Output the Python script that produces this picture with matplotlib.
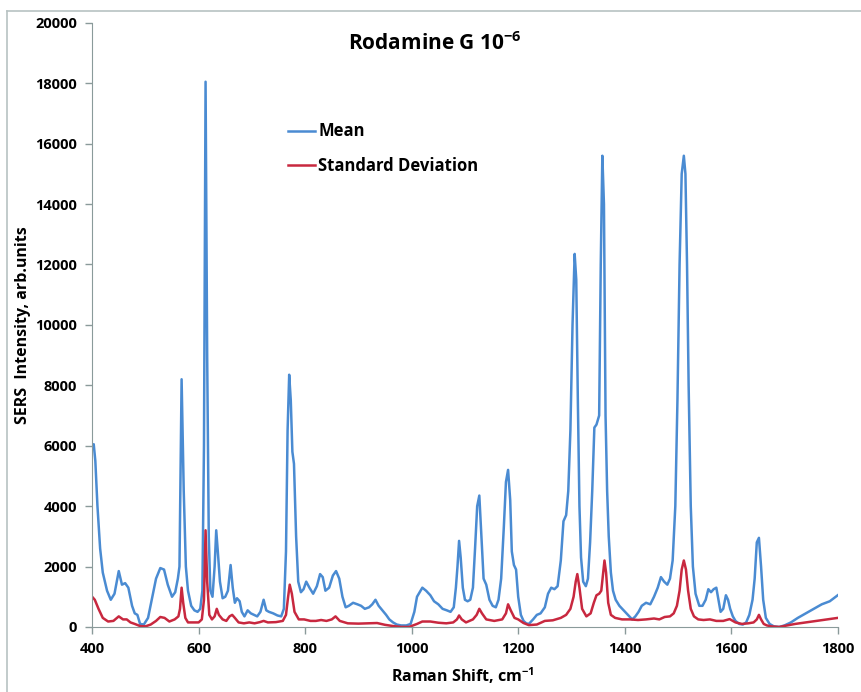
import matplotlib
matplotlib.use("Agg")
import matplotlib.pyplot as plt
from matplotlib.lines import Line2D

plt.rcParams['font.family'] = ['Open Sans', 'DejaVu Sans']
plt.rcParams['mathtext.fontset'] = 'custom'
plt.rcParams['mathtext.rm'] = 'Open Sans'
plt.rcParams['mathtext.bf'] = 'Open Sans:bold'
plt.rcParams['mathtext.it'] = 'Open Sans:italic'

# Mean spectrum (Raman shift, intensity)
mean_x = [400, 403, 406, 410, 415, 420, 428, 435, 442, 450, 456, 462, 468, 475, 480, 485, 490,
          497, 505, 512, 520, 528, 535, 542, 550, 556, 561, 564, 568, 572, 576, 580, 586, 592, 598,
          603, 607, 610, 613, 616, 619, 622, 626, 630, 633, 636, 640, 645, 650, 655, 660, 664, 668,
          672, 677, 681, 686, 692, 698, 704, 710, 716, 722, 727, 732, 740, 748, 755, 760, 764, 767,
          770, 773, 776, 779, 783, 787, 792, 797, 802, 808, 815, 822, 828, 833, 838, 845, 852, 858,
          864, 870, 876, 882, 890, 898, 905, 912, 920, 926, 932, 938, 945, 952, 958, 965, 972, 980,
          990, 998, 1005, 1010, 1015, 1020, 1027, 1035, 1042, 1050, 1058, 1066, 1073, 1079, 1083, 1086,
          1089, 1092, 1096, 1100, 1105, 1110, 1115, 1119, 1123, 1127, 1131, 1135, 1140, 1146, 1152, 1158,
          1163, 1168, 1173, 1177, 1181, 1185, 1188, 1192, 1196, 1200, 1205, 1210, 1215, 1220, 1228, 1235,
          1242, 1250, 1256, 1262, 1268, 1274, 1280, 1285, 1290, 1294, 1298, 1302, 1306, 1309, 1312, 1315,
          1318, 1322, 1327, 1331, 1335, 1339, 1343, 1347, 1352, 1355, 1358, 1361, 1364, 1367, 1370, 1374,
          1378, 1383, 1390, 1398, 1406, 1414, 1420, 1426, 1432, 1440, 1448, 1455, 1462, 1468, 1474, 1480,
          1485, 1490, 1495, 1499, 1503, 1507, 1511, 1514, 1517, 1520, 1524, 1528, 1533, 1540, 1546, 1552,
          1557, 1562, 1567, 1572, 1576, 1580, 1585, 1590, 1594, 1598, 1603, 1608, 1615, 1622, 1628, 1634,
          1640, 1644, 1648, 1652, 1656, 1660, 1665, 1672, 1680, 1690, 1700, 1712, 1725, 1740, 1755, 1770,
          1785, 1800]
mean_y = [6000, 6050, 5500, 4000, 2600, 1800, 1200, 900, 1100, 1850, 1400, 1450, 1300, 700, 450, 400, 100,
          80, 300, 900, 1600, 1950, 1900, 1400, 1000, 1150, 1600, 2000, 8200, 4500, 2000, 1200, 700, 550, 500,
          600, 1200, 6000, 18050, 9000, 3000, 1200, 1000, 2000, 3200, 2500, 1500, 950, 1000, 1200, 2050, 1300, 800,
          950, 850, 500, 350, 550, 450, 400, 350, 500, 900, 550, 500, 450, 380, 350, 600, 2500, 6500,
          8350, 7500, 5800, 5400, 3000, 1500, 1150, 1250, 1500, 1300, 1100, 1350, 1750, 1650, 1200, 1300, 1700, 1850,
          1600, 1000, 650, 700, 800, 750, 700, 600, 650, 750, 900, 700, 550, 400, 250, 150, 80, 50,
          50, 100, 500, 1000, 1150, 1300, 1200, 1050, 850, 750, 600, 550, 500, 650, 1300, 2000,
          2850, 2300, 1300, 900, 850, 900, 1300, 2600, 4000, 4350, 3000, 1600, 1400, 900, 700, 650,
          900, 1600, 3300, 4800, 5200, 4200, 2500, 2050, 1900, 1000, 400, 200, 120, 100, 250, 400,
          450, 650, 1100, 1300, 1250, 1350, 2200, 3500, 3700, 4500, 6500, 10000, 12350, 11500, 7500, 4000,
          2300, 1500, 1350, 1600, 2800, 4500, 6600, 6700, 7000, 12000, 15600, 14000, 7000, 4500, 3000, 1800,
          1200, 900, 700, 550, 400, 250, 350, 500, 700, 800, 750, 1000, 1300, 1650, 1500, 1400,
          1600, 2200, 4000, 7500, 12000, 15000, 15600, 15000, 12000, 8000, 4000, 2000, 1100, 700, 700, 900,
          1250, 1150, 1250, 1300, 900, 500, 600, 1050, 900, 600, 350, 200, 100, 80, 150, 400,
          900, 1600, 2800, 2950, 2000, 900, 300, 100, 20, 0, 50, 150, 300, 450, 600, 750,
          850, 1050]

# Standard deviation spectrum
std_x = [400, 405, 412, 420, 430, 440, 450, 458, 465, 472, 480, 490, 500, 510, 520, 528, 536, 545,
         555, 562, 565, 568, 571, 575, 580, 590, 600, 606, 610, 613, 616, 620, 625, 630, 634, 638, 645,
         652, 658, 663, 668, 675, 685, 695, 705, 715, 722, 730, 745, 758, 764, 768, 771, 775, 780, 788,
         798, 810, 820, 830, 840, 850, 857, 865, 880, 900, 920, 935, 950, 965, 980, 995, 1010, 1020,
         1035, 1050, 1065, 1078, 1085, 1089, 1094, 1102, 1115, 1122, 1127, 1132, 1140, 1155, 1170, 1177,
         1181, 1186, 1193, 1200, 1210, 1220, 1235, 1250, 1265, 1280, 1290, 1298, 1304, 1308, 1311, 1315,
         1320, 1328, 1336, 1342, 1347, 1352, 1356, 1359, 1362, 1365, 1369, 1374, 1382, 1395, 1410, 1425,
         1440, 1455, 1465, 1475, 1485, 1492, 1498, 1503, 1507, 1511, 1515, 1519, 1524, 1530, 1538, 1548,
         1560, 1572, 1585, 1597, 1608, 1620, 1632, 1642, 1648, 1652, 1656, 1661, 1667, 1675, 1690, 1705,
         1720, 1740, 1760, 1780, 1800]
std_y = [1000, 900, 600, 300, 180, 200, 350, 250, 250, 150, 100, 30, 20, 80, 200, 330, 300, 180,
         250, 350, 600, 1300, 800, 300, 150, 150, 150, 250, 900, 3200, 1500, 400, 250, 350, 600, 400, 250,
         200, 350, 400, 300, 150, 120, 150, 120, 160, 200, 150, 160, 200, 400, 1000, 1400, 1100, 500, 250,
         250, 200, 200, 230, 200, 250, 350, 200, 120, 110, 120, 130, 70, 30, 0, 0, 100, 180,
         180, 140, 120, 150, 250, 380, 250, 150, 250, 400, 600, 450, 250, 200, 250, 450,
         750, 550, 300, 250, 130, 60, 80, 200, 220, 300, 400, 600, 1000, 1500, 1750, 1300,
         600, 350, 450, 800, 1050, 1100, 1200, 1700, 2200, 1800, 800, 400, 300, 250, 250, 230,
         250, 280, 250, 330, 350, 450, 700, 1200, 1900, 2200, 1900, 1200, 600, 350, 250, 230,
         250, 200, 200, 260, 150, 100, 120, 150, 250, 400, 250, 100, 50, 20, 0, 50,
         100, 150, 200, 250, 300]

x_ticks = [400, 600, 800, 1000, 1200, 1400, 1600, 1800]
y_ticks = [0, 2000, 4000, 6000, 8000, 10000, 12000, 14000, 16000, 18000, 20000]

fig = plt.figure(figsize=(8.61, 6.92), dpi=100)
ax = fig.add_axes([0.107, 0.094, 0.866, 0.873])

ax.plot(mean_x, mean_y, color='#4a8bd2', lw=1.8, label='Mean', solid_joinstyle='round')
ax.plot(std_x, std_y, color='#c8283f', lw=1.8, label='Standard Deviation', solid_joinstyle='round')

ax.set_xlim(400, 1800)
ax.set_ylim(0, 20000)
ax.set_xticks(x_ticks)
ax.set_yticks(y_ticks)
for lab in ax.get_xticklabels() + ax.get_yticklabels():
    lab.set_fontweight('bold')
    lab.set_fontsize(10.5)
ax.tick_params(axis='both', direction='out', length=5, color='#8a9a9a', width=1, pad=6)
for s in ['top', 'right']:
    ax.spines[s].set_visible(False)
for s in ['left', 'bottom']:
    ax.spines[s].set_color('#8a9a9a')

ax.set_xlabel('Raman Shift, cm$^{\\mathbf{-1}}$', fontweight='bold', fontsize=11.5)
ax.set_ylabel('SERS  Intensity, arb.units', fontweight='bold', fontsize=11.5)
ax.xaxis.set_label_coords(0.497, -0.064)
ax.yaxis.set_label_coords(-0.082, 0.5)

ax.text(0.46, 0.965, 'Rodamine G 10$^{\\mathbf{-6}}$', transform=ax.transAxes,
        ha='center', va='center', fontsize=15, fontweight='bold')

leg = ax.legend(loc='upper left', bbox_to_anchor=(0.243, 0.86), frameon=False,
                handlelength=1.6, handletextpad=0.2, labelspacing=1.0,
                prop={'weight': 'bold', 'size': 12})

# thin figure border (top and left)
fig.add_artist(Line2D([0.008, 0.008], [0.0, 0.984], transform=fig.transFigure, color='#b8c2c2', lw=1.2))
fig.add_artist(Line2D([0.008, 1.0], [0.984, 0.984], transform=fig.transFigure, color='#b8c2c2', lw=1.2))

fig.savefig('out.png', dpi=100)
